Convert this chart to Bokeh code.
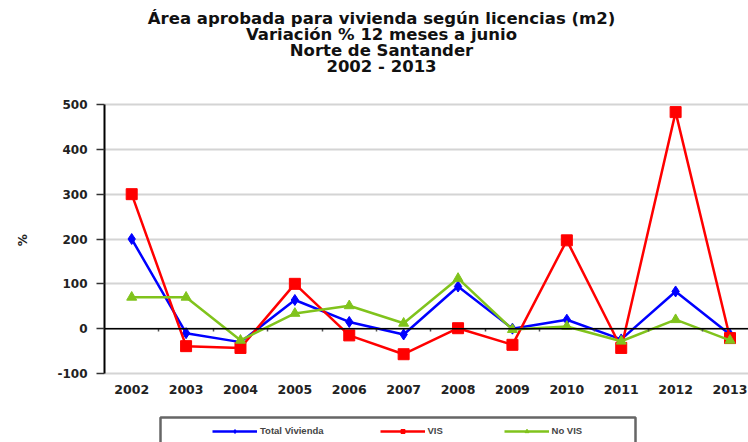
from bokeh.plotting import figure
from bokeh.models import (FixedTicker, Span, Legend, LegendItem, ColumnDataSource, Label,
                          BoxAnnotation, LinearAxis)
from bokeh.embed import file_html
from bokeh.resources import INLINE

years = ["2002", "2003", "2004", "2005", "2006", "2007", "2008", "2009", "2010", "2011", "2012", "2013"]
total_vivienda = [200, -10, -30, 64, 15, -13, 94, 0, 20, -24, 83, -13]
vis = [300, -39, -43, 100, -15, -57, 1, -36, 197, -43, 483, -21]
no_vis = [70, 70, -26, 34, 51, 12, 112, -2, 5, -28, 20, -26]
y_ticks = [-100, 0, 100, 200, 300, 400, 500]
title_lines = ["Área aprobada para vivienda según licencias (m2)",
               "Variación % 12 meses a junio",
               "Norte de Santander",
               "2002 - 2013"]

idx = list(range(len(years)))
src = ColumnDataSource(dict(x=idx, tv=total_vivienda, vis=vis, nv=no_vis))

FONT = "DejaVu Sans"

# layout: plotting band between pixel rows 104 (y=500) and 373 (y=-100) in a 442px canvas
W, H = 748, 442
LEFT = 104
TOP_PX, BOT_PX = 104, 373
ymin, ymax = min(y_ticks), max(y_ticks)
upp = (ymax - ymin) / (BOT_PX - TOP_PX)
y_lo = ymin - (H - BOT_PX) * upp
y_hi = ymax + TOP_PX * upp

p = figure(width=W, height=H, output_backend="svg", toolbar_location=None,
           x_range=(-0.5, 11.34), y_range=(y_lo, y_hi),
           min_border_left=LEFT, min_border_right=0, min_border_top=0, min_border_bottom=0)
p.outline_line_color = None

# grid
p.xgrid.grid_line_color = None
p.ygrid.ticker = FixedTicker(ticks=y_ticks)
p.ygrid.grid_line_color = "#d4d4d4"
p.ygrid.grid_line_width = 1.8

# y axis
p.yaxis.ticker = FixedTicker(ticks=y_ticks)
p.yaxis.bounds = (ymin, ymax)
p.yaxis.major_label_overrides = {t: str(t) for t in y_ticks}
p.yaxis.axis_line_color = "black"
p.yaxis.axis_line_width = 2
p.yaxis.major_tick_line_color = "#333333"
p.yaxis.major_tick_line_width = 1.5
p.yaxis.major_tick_out = 8
p.yaxis.major_tick_in = 0
p.yaxis.minor_tick_line_color = None
p.yaxis.major_label_text_font = FONT
p.yaxis.major_label_text_font_size = "12px"
p.yaxis.major_label_text_font_style = "bold"
p.yaxis.major_label_text_color = "#222222"
p.yaxis.major_label_standoff = 9
p.yaxis.axis_label = "%" + "\u00a0" * 9
p.yaxis.axis_label_text_font = FONT
p.yaxis.axis_label_text_font_size = "12px"
p.yaxis.axis_label_text_font_style = "bold"
p.yaxis.axis_label_text_color = "#222222"
p.yaxis.axis_label_standoff = 24

# x axis (labels hang under the -100 line)
p.xaxis.fixed_location = ymin
p.xaxis.ticker = FixedTicker(ticks=idx)
p.xaxis.major_label_overrides = {i: y for i, y in enumerate(years)}
p.xaxis.axis_line_color = None
p.xaxis.major_tick_line_color = None
p.xaxis.minor_tick_line_color = None
p.xaxis.major_label_text_font = FONT
p.xaxis.major_label_text_font_size = "12.5px"
p.xaxis.major_label_text_font_style = "bold"
p.xaxis.major_label_text_color = "#222222"
p.xaxis.major_label_standoff = 5

# zero line with small category-boundary tick marks
p.add_layout(Span(location=0, dimension="width", line_color="black", line_width=1.5))
zero_ax = LinearAxis(fixed_location=0, ticker=FixedTicker(ticks=[i + 0.5 for i in idx[:-1]]),
                     axis_line_color=None, major_tick_out=3, major_tick_in=0,
                     major_tick_line_color="#555555", major_tick_line_width=1.5,
                     minor_tick_line_color=None, major_label_text_color=None,
                     major_label_text_font_size="1px")
p.add_layout(zero_ax, "below")

r1l = p.line("x", "tv", source=src, line_color="#0000ff", line_width=2.5)
r1m = p.scatter("x", "tv", source=src, marker="diamond", size=11, color="#0000ff")
r2l = p.line("x", "vis", source=src, line_color="#ff0000", line_width=2.5)
r2m = p.scatter("x", "vis", source=src, marker="square", size=11, color="#ff0000")
r3l = p.line("x", "nv", source=src, line_color="#80c31c", line_width=2.5)
r3m = p.scatter("x", "nv", source=src, marker="triangle", size=10, color="#80c31c")

# title
for i, t in enumerate(title_lines):
    p.add_layout(Label(x=381 - LEFT, y=H - 18 - i * 16, x_units="screen", y_units="screen",
                       text=t, text_align="center", text_baseline="middle",
                       text_font=FONT, text_font_size="16.5px", text_font_style="bold",
                       text_color="#111111"))

# legend frame
p.add_layout(BoxAnnotation(left=160 - LEFT, right=635 - LEFT, top=H - 417, bottom=-10,
                           left_units="screen", right_units="screen",
                           top_units="screen", bottom_units="screen",
                           fill_color="white", fill_alpha=1,
                           line_color="#666666", line_width=2.5, line_alpha=1))

legend = Legend(items=[LegendItem(label="Total Vivienda", renderers=[r1l, r1m]),
                       LegendItem(label="VIS", renderers=[r2l, r2m]),
                       LegendItem(label="No VIS", renderers=[r3l, r3m])],
                orientation="horizontal", location=(108, 6),
                glyph_width=45, glyph_height=10, label_standoff=3, spacing=56,
                padding=6, margin=0,
                label_text_font="Liberation Sans", label_text_font_size="9.5px",
                label_text_font_style="bold",
                border_line_color=None,
                background_fill_alpha=0)
p.add_layout(legend)

open("out.html", "w").write(file_html(p, INLINE))
